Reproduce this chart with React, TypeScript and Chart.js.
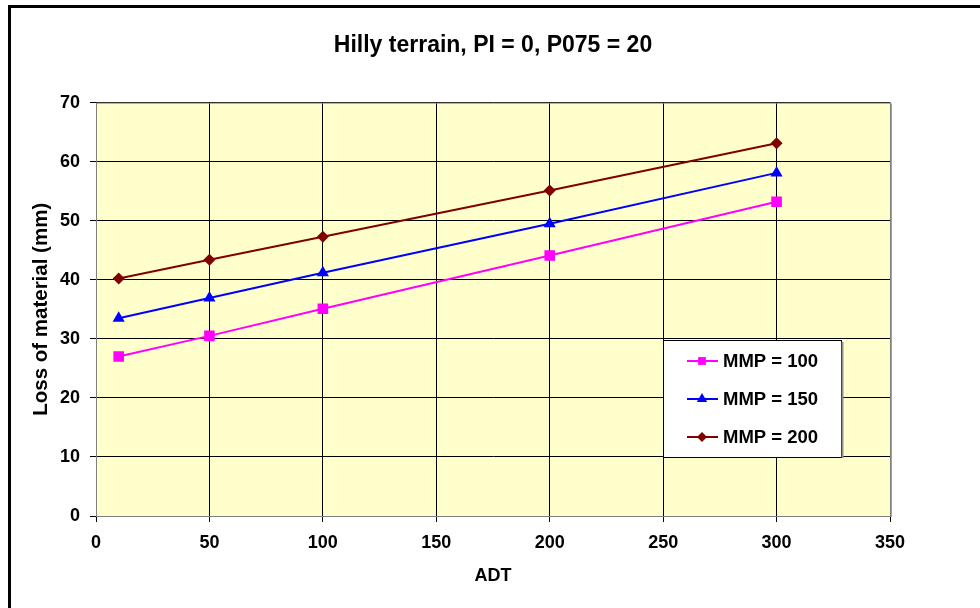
import React, { useEffect, useRef } from "react";
import { Chart, registerables } from "chart.js";

Chart.register(...registerables);

const adt = [10, 50, 100, 200, 300];
const mmp100 = [27.0, 30.5, 35.1, 44.1, 53.2];
const mmp150 = [33.5, 36.9, 41.2, 49.5, 58.1];
const mmp200 = [40.2, 43.4, 47.3, 55.1, 63.1];
const seriesLabels = ["MMP = 100", "MMP = 150", "MMP = 200"];
const seriesColors = ["#FF00FF", "#0000FF", "#800000"];
const seriesStyles = ["rect", "triangle", "rectRot"];
const seriesRadius = [7.5, 7, 6];
const legendRadius = [5.5, 6, 5];
const titleText = "Hilly terrain, PI = 0, P075 = 20";
const xTitle = "ADT";
const yTitle = "Loss of material (mm)";

const FONT = "'Liberation Sans', Arial, sans-serif";

function drawMarker(ctx: any, style: string, r: number, x: number, y: number, color: string) {
  ctx.save();
  ctx.fillStyle = color;
  ctx.beginPath();
  if (style === "rect") {
    const s = Math.SQRT1_2 * r;
    ctx.rect(x - s, y - s, 2 * s, 2 * s);
  } else if (style === "triangle") {
    ctx.moveTo(x, y - r);
    ctx.lineTo(x + r * 0.866, y + r * 0.5);
    ctx.lineTo(x - r * 0.866, y + r * 0.5);
    ctx.closePath();
  } else {
    ctx.moveTo(x, y - r);
    ctx.lineTo(x + r, y);
    ctx.lineTo(x, y + r);
    ctx.lineTo(x - r, y);
    ctx.closePath();
  }
  ctx.fill();
  ctx.restore();
}

const bgPlugin = {
  id: "plotBg",
  beforeDraw(chart: any) {
    const { ctx, chartArea } = chart;
    ctx.save();
    ctx.fillStyle = "#FFFFFF";
    ctx.fillRect(0, 0, chart.width, chart.height);
    ctx.fillStyle = "#FFFFCC";
    ctx.fillRect(chartArea.left, chartArea.top, chartArea.right - chartArea.left, chartArea.bottom - chartArea.top);
    ctx.restore();
  },
  afterDraw(chart: any) {
    const { ctx, chartArea } = chart;
    ctx.save();
    // plot border
    ctx.strokeStyle = "#808080";
    ctx.lineWidth = 1;
    ctx.strokeRect(chartArea.left + 0.5, chartArea.top + 0.5, chartArea.right - chartArea.left, chartArea.bottom - chartArea.top);
    ctx.strokeStyle = "#A0A0A0";
    ctx.beginPath();
    ctx.moveTo(chartArea.right + 1.5, chartArea.top + 1);
    ctx.lineTo(chartArea.right + 1.5, chartArea.bottom + 1);
    ctx.stroke();
    // outer frame
    ctx.strokeStyle = "#000000";
    ctx.lineWidth = 3;
    ctx.strokeRect(9.5, 6.5, 1200, 800);
    // legend
    const lx = 663, ly = 340, lw = 178, lh = 117;
    ctx.fillStyle = "#FFFFFF";
    ctx.fillRect(lx, ly, lw, lh);
    ctx.strokeStyle = "#000000";
    ctx.lineWidth = 1;
    ctx.strokeRect(lx + 0.5, ly + 0.5, lw, lh);
    ctx.strokeStyle = "#909090";
    ctx.lineWidth = 2;
    ctx.beginPath();
    ctx.moveTo(lx + lw + 1.5, ly + 2);
    ctx.lineTo(lx + lw + 1.5, ly + lh + 1);
    ctx.stroke();
    chart.data.datasets.forEach((ds: any, i: number) => {
      const y = ly + 21 + i * 38;
      ctx.strokeStyle = ds.borderColor;
      ctx.lineWidth = 2;
      ctx.beginPath();
      ctx.moveTo(lx + 24, y);
      ctx.lineTo(lx + 55, y);
      ctx.stroke();
      drawMarker(ctx, ds.pointStyle, legendRadius[i], lx + 39, y, ds.backgroundColor);
      ctx.fillStyle = "#000000";
      ctx.font = `bold 18.5px ${FONT}`;
      ctx.textBaseline = "middle";
      ctx.textAlign = "left";
      ctx.fillText(ds.label, lx + 60, y + 1);
    });
    ctx.restore();
  },
};

export default function App() {
  const ref = useRef<HTMLCanvasElement | null>(null);
  useEffect(() => {
    if (!ref.current) return;
    const series = [mmp100, mmp150, mmp200];
    const chart = new Chart(ref.current, {
      type: "line",
      data: {
        datasets: series.map((vals, i) => ({
          label: seriesLabels[i],
          data: adt.map((x, j) => ({ x, y: vals[j] })),
          borderColor: seriesColors[i],
          backgroundColor: seriesColors[i],
          pointStyle: seriesStyles[i] as any,
          pointRadius: seriesRadius[i],
          pointBorderWidth: 0,
          borderWidth: 2,
          tension: 0,
        })),
      },
      plugins: [bgPlugin],
      options: {
        responsive: false,
        animation: false,
        layout: { padding: { left: 0, right: 90, top: 0, bottom: 0 } },
        plugins: {
          legend: { display: false },
          tooltip: { enabled: false },
          title: {
            display: true,
            text: titleText,
            fullSize: false,
            color: "#000000",
            font: { family: FONT, size: 23, weight: "bold" },
            padding: { top: 32, bottom: 43 },
          },
        },
        scales: {
          x: {
            type: "linear",
            min: 0,
            max: 350,
            afterFit: (s: any) => { s.height = 92; },
            ticks: { stepSize: 50, color: "#000000", padding: 10, font: { family: FONT, size: 18, weight: "bold" } },
            grid: { color: "#000000", tickColor: "#000000", tickLength: 6, lineWidth: 1 },
            border: { color: "#000000", width: 1 },
            title: { display: true, text: xTitle, color: "#000000", font: { family: FONT, size: 18, weight: "bold" }, padding: { top: 0, bottom: 21 } },
          },
          y: {
            type: "linear",
            min: 0,
            max: 70,
            afterFit: (s: any) => { s.width = 96; },
            ticks: { stepSize: 10, color: "#000000", padding: 10, font: { family: FONT, size: 18, weight: "bold" } },
            grid: { color: "#000000", tickColor: "#000000", tickLength: 6, lineWidth: 1 },
            border: { color: "#000000", width: 1 },
            title: { display: true, text: yTitle, color: "#000000", font: { family: FONT, size: 20.5, weight: "bold" }, padding: { top: 29, bottom: 0 } },
          },
        },
      },
    });
    return () => chart.destroy();
  }, []);
  return (
    <div style={{ position: "absolute", left: 0, top: 0, width: 980, height: 608 }}>
      <canvas ref={ref} width={980} height={608} style={{ display: "block" }} />
    </div>
  );
}
